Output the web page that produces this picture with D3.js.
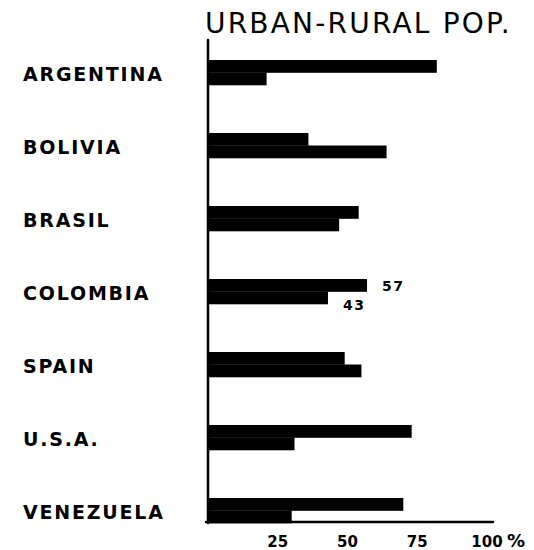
<!DOCTYPE html>
<html>
<head>
<meta charset="utf-8">
<script src="https://cdn.jsdelivr.net/npm/d3@7"></script>
<style>
  body { margin: 0; background: #fff; }
  svg text { font-family: "DejaVu Sans", sans-serif; fill: #000; }
</style>
</head>
<body>
<svg id="chart" width="534" height="550"></svg>
<script>
// Data (percent of population)
const countries = ["ARGENTINA", "BOLIVIA", "BRASIL", "COLOMBIA", "SPAIN", "U.S.A.", "VENEZUELA"];
const urban = [82, 36, 54, 57, 49, 73, 70];
const rural = [21, 64, 47, 43, 55, 31, 30];
const series = ["urban", "rural"];
const tickValues = [25, 50, 75, 100];
const labelled = ["COLOMBIA"]; // the only country with value labels

const svg = d3.select("#chart");

// Scales
const x = d3.scaleLinear().domain([0, 100]).range([208, 487]);
const y = d3.scaleBand()
  .domain(countries)
  .range([60, 60 + 6 * 73 + 25])
  .paddingInner(48 / 73);
const ySub = d3.scaleBand().domain(series).range([0, y.bandwidth()]);

const rows = countries.map((c, i) => ({ country: c, urban: urban[i], rural: rural[i] }));

// Title
svg.append("text")
  .attr("x", 205)
  .attr("y", 33)
  .attr("font-size", 28)
  .attr("letter-spacing", 2.2)
  .text("URBAN-RURAL POP.");

// Bars
const groups = svg.selectAll(".row")
  .data(rows)
  .join("g")
  .attr("class", "row")
  .attr("transform", d => `translate(0,${y(d.country)})`);

groups.selectAll("rect")
  .data(d => series.map(s => ({ key: s, value: d[s] })))
  .join("rect")
  .attr("x", x(0))
  .attr("y", d => ySub(d.key))
  .attr("width", d => x(d.value) - x(0))
  .attr("height", ySub.bandwidth() + 0.3)
  .attr("fill", "#000");

// Value labels (Colombia only)
groups.filter(d => labelled.includes(d.country))
  .selectAll(".val")
  .data(d => series.map(s => ({ key: s, value: d[s] })))
  .join("text")
  .attr("class", "val")
  .attr("x", d => x(d.value) + 15)
  .attr("y", d => d.key === "urban" ? ySub(d.key) + 12 : ySub(d.key) + 18)
  .attr("font-size", 14)
  .attr("font-weight", "bold")
  .attr("letter-spacing", 1.5)
  .text(d => d.value);

// Country labels
svg.selectAll(".country")
  .data(countries)
  .join("text")
  .attr("class", "country")
  .attr("x", 23)
  .attr("y", d => y(d) + y.bandwidth() / 2 + 8.5)
  .attr("font-size", 19)
  .attr("font-weight", "bold")
  .attr("letter-spacing", 1.8)
  .text(d => d);

// Axes (hand-drawn style lines)
svg.append("line")
  .attr("x1", x(0)).attr("x2", x(0))
  .attr("y1", 40).attr("y2", 523)
  .attr("stroke", "#000")
  .attr("stroke-width", 2.5)
  .attr("stroke-linecap", "round");

svg.append("line")
  .attr("x1", x(0) - 2).attr("x2", 493)
  .attr("y1", 522).attr("y2", 522)
  .attr("stroke", "#000")
  .attr("stroke-width", 2.5)
  .attr("stroke-linecap", "round");

// Tick labels
svg.selectAll(".tick-label")
  .data(tickValues)
  .join("text")
  .attr("class", "tick-label")
  .attr("x", d => x(d))
  .attr("y", 547)
  .attr("text-anchor", "middle")
  .attr("font-size", 15)
  .attr("font-weight", "bold")
  .text(d => d);

svg.append("text")
  .attr("x", 507)
  .attr("y", 547)
  .attr("font-size", 18)
  .attr("font-weight", "bold")
  .text("%");
</script>
</body>
</html>
